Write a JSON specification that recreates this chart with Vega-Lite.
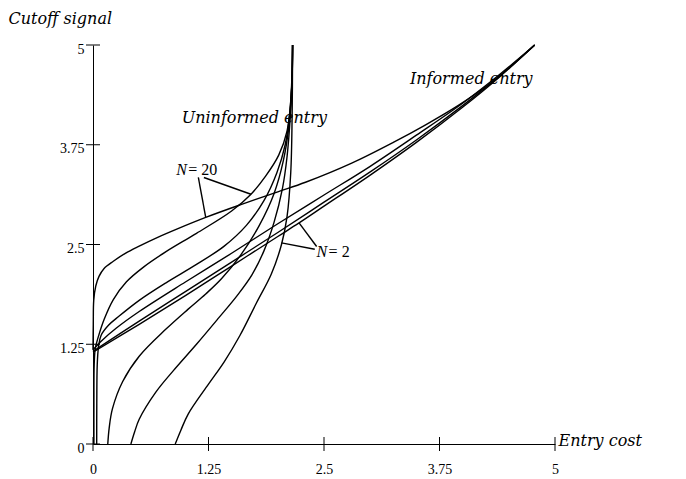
{
  "$schema": "https://vega.github.io/schema/vega-lite/v6.json",
  "width": 462,
  "height": 399,
  "autosize": {"type": "none"},
  "padding": {"left": 93, "top": 45, "right": 131, "bottom": 35},
  "background": "white",
  "config": {"view": {"stroke": null}},
  "datasets": {
    "curves": [
      {"c": "U20", "i": 0, "x": 0.01, "y": 0},
      {"c": "U20", "i": 1, "x": 0.01, "y": 0.5},
      {"c": "U20", "i": 2, "x": 0.013, "y": 1.0},
      {"c": "U20", "i": 3, "x": 0.025, "y": 1.2},
      {"c": "U20", "i": 4, "x": 0.054, "y": 1.33},
      {"c": "U20", "i": 5, "x": 0.12, "y": 1.56},
      {"c": "U20", "i": 6, "x": 0.22, "y": 1.81},
      {"c": "U20", "i": 7, "x": 0.36, "y": 2.03},
      {"c": "U20", "i": 8, "x": 0.55, "y": 2.22},
      {"c": "U20", "i": 9, "x": 0.79, "y": 2.41},
      {"c": "U20", "i": 10, "x": 1.12, "y": 2.64},
      {"c": "U20", "i": 11, "x": 1.5, "y": 2.92},
      {"c": "U20", "i": 12, "x": 1.71, "y": 3.13},
      {"c": "U20", "i": 13, "x": 1.87, "y": 3.36},
      {"c": "U20", "i": 14, "x": 2.01, "y": 3.62},
      {"c": "U20", "i": 15, "x": 2.1, "y": 3.92},
      {"c": "U20", "i": 16, "x": 2.14, "y": 4.3},
      {"c": "U20", "i": 17, "x": 2.155, "y": 4.7},
      {"c": "U20", "i": 18, "x": 2.16, "y": 5},

      {"c": "U10", "i": 0, "x": 0.04, "y": 0},
      {"c": "U10", "i": 1, "x": 0.041, "y": 0.5},
      {"c": "U10", "i": 2, "x": 0.046, "y": 1.0},
      {"c": "U10", "i": 3, "x": 0.06, "y": 1.22},
      {"c": "U10", "i": 4, "x": 0.087, "y": 1.36},
      {"c": "U10", "i": 5, "x": 0.17, "y": 1.49},
      {"c": "U10", "i": 6, "x": 0.28, "y": 1.6},
      {"c": "U10", "i": 7, "x": 0.5, "y": 1.8},
      {"c": "U10", "i": 8, "x": 0.79, "y": 2.02},
      {"c": "U10", "i": 9, "x": 1.12, "y": 2.25},
      {"c": "U10", "i": 10, "x": 1.42, "y": 2.48},
      {"c": "U10", "i": 11, "x": 1.66, "y": 2.74},
      {"c": "U10", "i": 12, "x": 1.85, "y": 3.05},
      {"c": "U10", "i": 13, "x": 1.99, "y": 3.4},
      {"c": "U10", "i": 14, "x": 2.08, "y": 3.75},
      {"c": "U10", "i": 15, "x": 2.13, "y": 4.15},
      {"c": "U10", "i": 16, "x": 2.155, "y": 4.6},
      {"c": "U10", "i": 17, "x": 2.16, "y": 5},

      {"c": "U5", "i": 0, "x": 0.16, "y": 0},
      {"c": "U5", "i": 1, "x": 0.175, "y": 0.2},
      {"c": "U5", "i": 2, "x": 0.21, "y": 0.44},
      {"c": "U5", "i": 3, "x": 0.32, "y": 0.78},
      {"c": "U5", "i": 4, "x": 0.5, "y": 1.1},
      {"c": "U5", "i": 5, "x": 0.79, "y": 1.44},
      {"c": "U5", "i": 6, "x": 1.03, "y": 1.69},
      {"c": "U5", "i": 7, "x": 1.22, "y": 1.88},
      {"c": "U5", "i": 8, "x": 1.39, "y": 2.07},
      {"c": "U5", "i": 9, "x": 1.6, "y": 2.37},
      {"c": "U5", "i": 10, "x": 1.8, "y": 2.74},
      {"c": "U5", "i": 11, "x": 1.96, "y": 3.14},
      {"c": "U5", "i": 12, "x": 2.06, "y": 3.55},
      {"c": "U5", "i": 13, "x": 2.12, "y": 3.98},
      {"c": "U5", "i": 14, "x": 2.15, "y": 4.45},
      {"c": "U5", "i": 15, "x": 2.16, "y": 5},

      {"c": "U3", "i": 0, "x": 0.41, "y": 0},
      {"c": "U3", "i": 1, "x": 0.45, "y": 0.15},
      {"c": "U3", "i": 2, "x": 0.5, "y": 0.31},
      {"c": "U3", "i": 3, "x": 0.68, "y": 0.65},
      {"c": "U3", "i": 4, "x": 0.87, "y": 0.92},
      {"c": "U3", "i": 5, "x": 1.12, "y": 1.25},
      {"c": "U3", "i": 6, "x": 1.36, "y": 1.58},
      {"c": "U3", "i": 7, "x": 1.56, "y": 1.86},
      {"c": "U3", "i": 8, "x": 1.72, "y": 2.12},
      {"c": "U3", "i": 9, "x": 1.85, "y": 2.42},
      {"c": "U3", "i": 10, "x": 1.96, "y": 2.78},
      {"c": "U3", "i": 11, "x": 2.05, "y": 3.2},
      {"c": "U3", "i": 12, "x": 2.1, "y": 3.6},
      {"c": "U3", "i": 13, "x": 2.135, "y": 4.1},
      {"c": "U3", "i": 14, "x": 2.155, "y": 4.6},
      {"c": "U3", "i": 15, "x": 2.16, "y": 5},

      {"c": "U2", "i": 0, "x": 0.89, "y": 0},
      {"c": "U2", "i": 1, "x": 0.95, "y": 0.17},
      {"c": "U2", "i": 2, "x": 1.03, "y": 0.375},
      {"c": "U2", "i": 3, "x": 1.25, "y": 0.75},
      {"c": "U2", "i": 4, "x": 1.42, "y": 1.03},
      {"c": "U2", "i": 5, "x": 1.59, "y": 1.36},
      {"c": "U2", "i": 6, "x": 1.77, "y": 1.77},
      {"c": "U2", "i": 7, "x": 1.93, "y": 2.13},
      {"c": "U2", "i": 8, "x": 2.04, "y": 2.5},
      {"c": "U2", "i": 9, "x": 2.1, "y": 2.85},
      {"c": "U2", "i": 10, "x": 2.14, "y": 3.4},
      {"c": "U2", "i": 11, "x": 2.155, "y": 4.1},
      {"c": "U2", "i": 12, "x": 2.16, "y": 5},

      {"c": "I20", "i": 0, "x": 0, "y": 1.18},
      {"c": "I20", "i": 1, "x": 0.003, "y": 1.5},
      {"c": "I20", "i": 2, "x": 0.008, "y": 1.8},
      {"c": "I20", "i": 3, "x": 0.03, "y": 1.98},
      {"c": "I20", "i": 4, "x": 0.065, "y": 2.1},
      {"c": "I20", "i": 5, "x": 0.12, "y": 2.2},
      {"c": "I20", "i": 6, "x": 0.22, "y": 2.29},
      {"c": "I20", "i": 7, "x": 0.35, "y": 2.39},
      {"c": "I20", "i": 8, "x": 0.5, "y": 2.48},
      {"c": "I20", "i": 9, "x": 0.7, "y": 2.59},
      {"c": "I20", "i": 10, "x": 0.9, "y": 2.69},
      {"c": "I20", "i": 11, "x": 1.22, "y": 2.84},
      {"c": "I20", "i": 12, "x": 1.6, "y": 3.0},
      {"c": "I20", "i": 13, "x": 2.0, "y": 3.16},
      {"c": "I20", "i": 14, "x": 2.3, "y": 3.28},
      {"c": "I20", "i": 15, "x": 2.8, "y": 3.52},
      {"c": "I20", "i": 16, "x": 3.25, "y": 3.78},
      {"c": "I20", "i": 17, "x": 3.6, "y": 4.0},
      {"c": "I20", "i": 18, "x": 3.95, "y": 4.24},
      {"c": "I20", "i": 19, "x": 4.3, "y": 4.52},
      {"c": "I20", "i": 20, "x": 4.55, "y": 4.76},
      {"c": "I20", "i": 21, "x": 4.78, "y": 5.0},

      {"c": "I5", "i": 0, "x": 0, "y": 1.18},
      {"c": "I5", "i": 1, "x": 0.1, "y": 1.3},
      {"c": "I5", "i": 2, "x": 0.25, "y": 1.45},
      {"c": "I5", "i": 3, "x": 0.5, "y": 1.66},
      {"c": "I5", "i": 4, "x": 1.0, "y": 2.03},
      {"c": "I5", "i": 5, "x": 1.5, "y": 2.39},
      {"c": "I5", "i": 6, "x": 2.0, "y": 2.76},
      {"c": "I5", "i": 7, "x": 2.5, "y": 3.12},
      {"c": "I5", "i": 8, "x": 3.0, "y": 3.48},
      {"c": "I5", "i": 9, "x": 3.5, "y": 3.87},
      {"c": "I5", "i": 10, "x": 4.0, "y": 4.27},
      {"c": "I5", "i": 11, "x": 4.4, "y": 4.63},
      {"c": "I5", "i": 12, "x": 4.78, "y": 5.0},

      {"c": "I3", "i": 0, "x": 0, "y": 1.16},
      {"c": "I3", "i": 1, "x": 0.5, "y": 1.54},
      {"c": "I3", "i": 2, "x": 1.0, "y": 1.91},
      {"c": "I3", "i": 3, "x": 1.5, "y": 2.28},
      {"c": "I3", "i": 4, "x": 2.0, "y": 2.65},
      {"c": "I3", "i": 5, "x": 2.5, "y": 3.03},
      {"c": "I3", "i": 6, "x": 3.0, "y": 3.41},
      {"c": "I3", "i": 7, "x": 3.5, "y": 3.81},
      {"c": "I3", "i": 8, "x": 4.0, "y": 4.24},
      {"c": "I3", "i": 9, "x": 4.4, "y": 4.61},
      {"c": "I3", "i": 10, "x": 4.78, "y": 5.0},

      {"c": "I2", "i": 0, "x": 0, "y": 1.15},
      {"c": "I2", "i": 1, "x": 0.5, "y": 1.5},
      {"c": "I2", "i": 2, "x": 1.0, "y": 1.86},
      {"c": "I2", "i": 3, "x": 1.5, "y": 2.23},
      {"c": "I2", "i": 4, "x": 2.0, "y": 2.6},
      {"c": "I2", "i": 5, "x": 2.23, "y": 2.77},
      {"c": "I2", "i": 6, "x": 2.5, "y": 2.98},
      {"c": "I2", "i": 7, "x": 3.0, "y": 3.37},
      {"c": "I2", "i": 8, "x": 3.5, "y": 3.78},
      {"c": "I2", "i": 9, "x": 4.0, "y": 4.22},
      {"c": "I2", "i": 10, "x": 4.4, "y": 4.6},
      {"c": "I2", "i": 11, "x": 4.78, "y": 5.0}
    ],
    "ticks": [{"v": 0}, {"v": 1.25}, {"v": 2.5}, {"v": 3.75}, {"v": 5}],
    "pointers": [
      {"x": 1.14, "y": 3.34, "x2": 1.22, "y2": 2.84},
      {"x": 1.2, "y": 3.34, "x2": 1.71, "y2": 3.13},
      {"x": 2.4, "y": 2.44, "x2": 2.04, "y2": 2.52},
      {"x": 2.42, "y": 2.475, "x2": 2.23, "y2": 2.77}
    ],
    "bigLabels": [
      {"text": "Uninformed entry", "x": 0.96, "y": 4.09},
      {"text": "Informed entry", "x": 3.43, "y": 4.58}
    ],
    "nLabels": [
      {"text": "N", "x": 0.9, "y": 3.43},
      {"text": "N", "x": 2.42, "y": 2.41}
    ],
    "eqLabels": [
      {"text": "= 20", "x": 1.03, "y": 3.43},
      {"text": "= 2", "x": 2.55, "y": 2.41}
    ]
  },
  "layer": [
    {
      "data": {"name": "curves"},
      "mark": {"type": "line", "interpolate": "catmull-rom", "strokeWidth": 1.4, "color": "black"},
      "encoding": {
        "x": {
          "field": "x", "type": "quantitative",
          "scale": {"domain": [0, 5], "nice": false, "zero": false},
          "axis": {
            "values": [0, 1.25, 2.5, 3.75, 5], "format": ".3~g",
            "grid": false, "ticks": false, "tickSize": 0,
            "domainColor": "black", "domainWidth": 1,
            "labelFont": "Liberation Serif", "labelFontSize": 14, "labelColor": "black",
            "labelPadding": 25, "labelBaseline": "middle", "labelFlush": false, "labelOverlap": false,
            "title": "Entry cost",
            "titleFont": "DejaVu Serif", "titleFontStyle": "italic", "titleFontWeight": "normal",
            "titleFontSize": 16, "titleColor": "black",
            "titleX": 465, "titleY": -4, "titleAlign": "left", "titleBaseline": "middle", "titleAnchor": null
          }
        },
        "y": {
          "field": "y", "type": "quantitative",
          "scale": {"domain": [0, 5], "nice": false, "zero": false},
          "axis": {
            "values": [0, 1.25, 2.5, 3.75, 5], "format": ".3~g",
            "grid": false, "ticks": false, "tickSize": 0,
            "domainColor": "black", "domainWidth": 1,
            "labelFont": "Liberation Serif", "labelFontSize": 14, "labelColor": "black",
            "labelPadding": 9, "labelOffset": 4, "labelBaseline": "middle", "labelFlush": false, "labelOverlap": false,
            "title": "Cutoff signal",
            "titleFont": "DejaVu Serif", "titleFontStyle": "italic", "titleFontWeight": "normal",
            "titleFontSize": 16, "titleColor": "black", "titleAngle": 0,
            "titleX": -85, "titleY": -27, "titleAlign": "left", "titleBaseline": "middle", "titleAnchor": null
          }
        },
        "detail": {"field": "c", "type": "nominal"},
        "order": {"field": "i", "type": "quantitative"}
      }
    },
    {
      "data": {"name": "ticks"},
      "mark": {"type": "tick", "orient": "vertical", "size": 14, "thickness": 1, "color": "black", "opacity": 1},
      "encoding": {
        "x": {"field": "v", "type": "quantitative"},
        "y": {"datum": 0, "type": "quantitative"}
      }
    },
    {
      "data": {"name": "ticks"},
      "mark": {"type": "tick", "orient": "horizontal", "size": 14, "thickness": 1, "color": "black", "opacity": 1},
      "encoding": {
        "y": {"field": "v", "type": "quantitative"},
        "x": {"datum": 0, "type": "quantitative"}
      }
    },
    {
      "data": {"name": "pointers"},
      "mark": {"type": "rule", "strokeWidth": 1.4, "color": "black"},
      "encoding": {
        "x": {"field": "x", "type": "quantitative"},
        "y": {"field": "y", "type": "quantitative"},
        "x2": {"field": "x2"},
        "y2": {"field": "y2"}
      }
    },
    {
      "data": {"name": "bigLabels"},
      "mark": {"type": "text", "font": "DejaVu Serif", "fontStyle": "italic", "fontSize": 16, "align": "left", "baseline": "middle", "color": "black"},
      "encoding": {
        "x": {"field": "x", "type": "quantitative"},
        "y": {"field": "y", "type": "quantitative"},
        "text": {"field": "text"}
      }
    },
    {
      "data": {"name": "nLabels"},
      "mark": {"type": "text", "font": "Liberation Serif", "fontStyle": "italic", "fontSize": 16, "align": "left", "baseline": "middle", "color": "black"},
      "encoding": {
        "x": {"field": "x", "type": "quantitative"},
        "y": {"field": "y", "type": "quantitative"},
        "text": {"field": "text"}
      }
    },
    {
      "data": {"name": "eqLabels"},
      "mark": {"type": "text", "font": "Liberation Serif", "fontSize": 16, "align": "left", "baseline": "middle", "color": "black"},
      "encoding": {
        "x": {"field": "x", "type": "quantitative"},
        "y": {"field": "y", "type": "quantitative"},
        "text": {"field": "text"}
      }
    }
  ]
}
